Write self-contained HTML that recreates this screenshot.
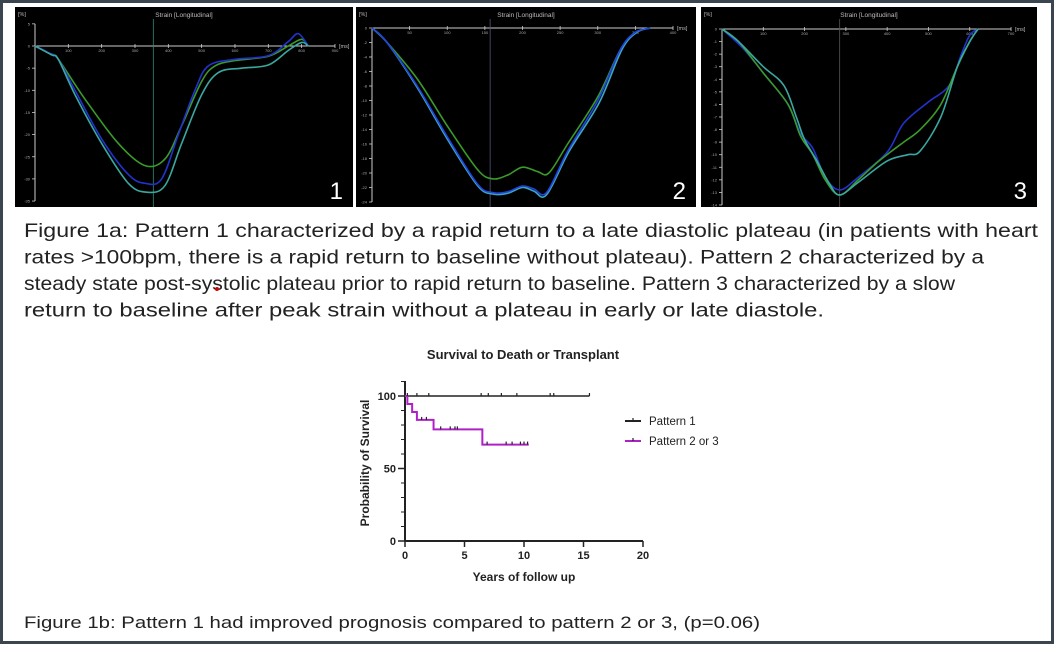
<!DOCTYPE html>
<html><head><meta charset="utf-8"><style>
html,body{margin:0;padding:0;background:#fff}
svg{display:block}
text{font-family:"Liberation Sans",Arial,sans-serif}
</style></head><body>
<svg id="fig" width="1054" height="645" viewBox="0 0 1054 645">
<rect x="1.5" y="1.5" width="1051" height="641" fill="#fff" stroke="#3a4550" stroke-width="3"/>
<g id="panels"></g>
<g font-size="19.5" fill="#222">
<text x="24" y="237" textLength="1014" lengthAdjust="spacingAndGlyphs">Figure 1a: Pattern 1 characterized by a rapid return to a late diastolic plateau (in patients with heart</text>
<text x="24" y="263.5" textLength="960" lengthAdjust="spacingAndGlyphs">rates &gt;100bpm, there is a rapid return to baseline without plateau). Pattern 2 characterized by a</text>
<text x="24" y="290" textLength="931" lengthAdjust="spacingAndGlyphs">steady state post-systolic plateau prior to rapid return to baseline. Pattern 3 characterized by a slow</text>
<text x="24" y="316.5" textLength="800" lengthAdjust="spacingAndGlyphs">return to baseline after peak strain without a plateau in early or late diastole.</text>
</g>
<circle cx="217" cy="289" r="2" fill="#d00"/>
<g id="km"></g>
<text x="24" y="628" font-size="17" fill="#222" textLength="736" lengthAdjust="spacingAndGlyphs">Figure 1b: Pattern 1 had improved prognosis compared to pattern 2 or 3, (p=0.06)</text>
</svg>
<script>
// ---- Strain panel data (time ms, strain %) ----
const p1Green=[[0,0],[50,-2],[70,-3],[150,-12],[250,-22],[330,-27],[390,-25.5],[440,-18],[500,-8],[540,-4.5],[600,-3.3],[700,-2.3],[760,0],[800,1.5],[820,0]];
const p1Blue=[[0,0],[40,-1.5],[70,-3],[120,-10],[200,-21],[280,-29],[330,-31],[380,-30],[430,-20],[480,-10],[520,-4.5],[600,-3],[700,-2.2],[760,1],[790,2.8],[820,0]];
const p1Teal=[[0,0],[50,-2],[70,-3],[120,-11],[200,-22],[280,-31],[335,-33],[390,-31.5],[440,-22],[500,-11],[550,-6],[620,-5],[700,-4.3],[760,-1],[800,0.8],[820,0]];
const p2Green=[[0,0],[20,-2],[60,-7],[100,-13.5],[140,-19.5],[160,-20.8],[180,-20.3],[200,-19.2],[220,-19.8],[235,-20],[260,-16],[300,-9.5],[330,-3],[350,-0.6],[370,0]];
const p2Blue=[[0,0],[20,-2],[60,-8],[100,-15],[140,-21.5],[160,-22.7],[180,-22.6],[200,-21.8],[215,-22.2],[232,-22.7],[260,-17],[300,-10],[330,-3],[350,-0.6],[370,0]];
const p2Teal=[[0,0],[20,-2],[60,-8.2],[100,-15.3],[140,-21.7],[160,-22.9],[180,-22.8],[200,-22],[215,-22.5],[232,-23],[262,-17],[302,-10.3],[332,-3],[352,-0.6],[370,0]];
const p3Green=[[0,0],[40,-1],[100,-3.5],[160,-6],[190,-8.5],[220,-10],[250,-12],[285,-13.2],[330,-12],[380,-10.5],[440,-9],[480,-8],[530,-6],[570,-3],[600,-1],[620,0]];
const p3Blue=[[0,0],[50,-1.5],[100,-3.5],[160,-6],[190,-8.3],[220,-9.5],[250,-11.8],[285,-12.8],[330,-11.8],[400,-9.8],[440,-7.5],[500,-5.8],[550,-4.5],[580,-2],[600,-0.5],[620,0]];
const p3Teal=[[0,0],[40,-1],[100,-3],[150,-4.5],[180,-7],[200,-8.8],[230,-10.5],[260,-12.3],[285,-13.2],[330,-12.2],[400,-10.5],[450,-10],[480,-9.7],[530,-7],[570,-3],[600,-1],[620,0]];
const p1XTicks=[100,200,300,400,500,600,700,800,900];
const p1YTicks=[5,0,-5,-10,-15,-20,-25,-30,-35];
const p2XTicks=[50,100,150,200,250,300,350,400];
const p2YTicks=[0,-2,-4,-6,-8,-10,-12,-14,-16,-18,-20,-22,-24];
const p3XTicks=[100,200,300,400,500,600,700];
const p3YTicks=[0,-1,-2,-3,-4,-5,-6,-7,-8,-9,-10,-11,-12,-13,-14];

// ---- KM data ----
const kmXTicks=[0,5,10,15,20];
const kmYTicks=[0,50,100];
const km1Steps=[[0,100],[15.5,100]];
const km1Censor=[0.2,1,2,6.4,7,8.1,9.4,12.2,12.5,15.5];
const km2Steps=[[0,100],[0.2,94.5],[0.6,89],[1,83.5],[2.4,77],[6.5,66.5],[10.4,66.5]];
const km2Censor=[[1.4,83.5],[1.8,83.5],[3,77],[3.8,77],[4.2,77],[4.4,77],[6.9,66.5],[8.5,66.5],[9,66.5],[9.7,66.5],[10,66.5],[10.3,66.5]];
const legendLabels=["Pattern 1","Pattern 2 or 3"];

const NS="http://www.w3.org/2000/svg";
function mk(tag,attrs,parent){const e=document.createElementNS(NS,tag);for(const k in attrs)e.setAttribute(k,attrs[k]);parent.appendChild(e);return e;}
function smooth(pts){let d="M"+pts[0][0]+","+pts[0][1];for(let i=0;i<pts.length-1;i++){const p0=pts[i-1]||pts[i],p1=pts[i],p2=pts[i+1],p3=pts[i+2]||p2;const c1=[p1[0]+(p2[0]-p0[0])/6,p1[1]+(p2[1]-p0[1])/6],c2=[p2[0]-(p3[0]-p1[0])/6,p2[1]-(p3[1]-p1[1])/6];d+=" C"+c1+" "+c2+" "+p2;}return d;}

const panelsG=document.getElementById('panels');
function panel(cfg){
  const g=mk('g',{},panelsG);
  
  
  mk('rect',{x:cfg.bx,y:cfg.by,width:cfg.bw,height:cfg.bh,fill:'#000'},g);
  const X=t=>cfg.x0+t*cfg.sx, Y=v=>cfg.y0-v*cfg.sy;
  const t1=mk('text',{x:cfg.bx+cfg.bw/2,y:cfg.by+10,'font-size':6.5,fill:'#bbb','text-anchor':'middle'},g);t1.textContent='Strain [Longitudinal]';
  const t2=mk('text',{x:cfg.bx+3,y:cfg.by+9,'font-size':5.5,fill:'#bbb'},g);t2.textContent='[%]';
  const t3=mk('text',{x:X(cfg.tmax)+4,y:cfg.y0+2,'font-size':5.5,fill:'#bbb'},g);t3.textContent='[ms]';
  mk('line',{x1:cfg.x0,y1:cfg.y0,x2:X(cfg.tmax),y2:cfg.y0,stroke:'#ccc','stroke-width':1},g);
  mk('line',{x1:cfg.x0,y1:Y(cfg.ymax),x2:cfg.x0,y2:Y(cfg.ymin),stroke:'#ccc','stroke-width':1},g);
  cfg.xt.forEach(t=>{mk('line',{x1:X(t),y1:cfg.y0-2,x2:X(t),y2:cfg.y0+2,stroke:'#ccc','stroke-width':0.8},g);const tx=mk('text',{x:X(t),y:cfg.y0+6,'font-size':4,fill:'#aaa','text-anchor':'middle'},g);tx.textContent=t;});
  cfg.yt.forEach(v=>{mk('line',{x1:cfg.x0-3,y1:Y(v),x2:cfg.x0,y2:Y(v),stroke:'#ccc','stroke-width':0.8},g);const tx=mk('text',{x:cfg.x0-5,y:Y(v)+1.5,'font-size':4,fill:'#aaa','text-anchor':'end'},g);tx.textContent=v;});
  mk('line',{x1:X(cfg.cursor),y1:cfg.by+12,x2:X(cfg.cursor),y2:cfg.by+cfg.bh,stroke:cfg.cursorColor,'stroke-width':0.8},g);
  cfg.series.forEach(s=>{const p=mk('path',{d:smooth(s.d.map(q=>[X(q[0]),Y(q[1])])),fill:'none',stroke:s.c,'stroke-width':1.6},g);});
  const n=mk('text',{x:cfg.bx+cfg.bw-10,y:cfg.by+cfg.bh-8,'font-size':24,fill:'#fff','text-anchor':'end'},g);n.textContent=cfg.num;
}
panel({name:'strain-panel-1',bx:15,by:7,bw:338,bh:200,x0:35,y0:46,sx:0.3333,sy:4.43,tmax:900,ymax:5,ymin:-35,xt:p1XTicks,yt:p1YTicks,cursor:355,cursorColor:'#2a8a7a',num:'1',
  series:[{d:p1Green,c:'#3a9a2a',n:'pattern1-green-curve'},{d:p1Blue,c:'#2233cc',n:'pattern1-blue-curve'},{d:p1Teal,c:'#3aa8a0',n:'pattern1-teal-curve'}]});
panel({name:'strain-panel-2',bx:356,by:7,bw:340,bh:200,x0:372,y0:28,sx:0.7525,sy:7.25,tmax:400,ymax:0,ymin:-24,xt:p2XTicks,yt:p2YTicks,cursor:157,cursorColor:'#557',num:'2',
  series:[{d:p2Green,c:'#3a9a2a',n:'pattern2-green-curve'},{d:p2Teal,c:'#3aa8c0',n:'pattern2-teal-curve'},{d:p2Blue,c:'#2244dd',n:'pattern2-blue-curve'}]});
panel({name:'strain-panel-3',bx:701,by:7,bw:336,bh:200,x0:722,y0:29,sx:0.4129,sy:12.57,tmax:700,ymax:0,ymin:-14,xt:p3XTicks,yt:p3YTicks,cursor:285,cursorColor:'#555',num:'3',
  series:[{d:p3Blue,c:'#2233cc',n:'pattern3-blue-curve'},{d:p3Green,c:'#3a9a2a',n:'pattern3-green-curve'},{d:p3Teal,c:'#3aa8a0',n:'pattern3-teal-curve'}]});

// ---- KM chart ----
const km=document.getElementById('km');
const KX=v=>405+v*(643-405)/20, KY=v=>541-v*(541-396)/100;
const title=mk('text',{x:523,y:359,'font-size':13,'font-weight':'bold',fill:'#222','text-anchor':'middle'},km);title.textContent='Survival to Death or  Transplant';

mk('line',{x1:405,y1:381,x2:405,y2:541,stroke:'#222','stroke-width':2},km);
mk('line',{x1:405,y1:541,x2:643,y2:541,stroke:'#222','stroke-width':2},km);
for(let v=0;v<=110;v+=10){mk('line',{x1:401,y1:KY(v),x2:405,y2:KY(v),stroke:'#222','stroke-width':1},km);}
kmYTicks.forEach(v=>{mk('line',{x1:398,y1:KY(v),x2:405,y2:KY(v),stroke:'#222','stroke-width':1.5},km);const t=mk('text',{x:396,y:KY(v)+4,'font-size':11,'font-weight':'bold',fill:'#222','text-anchor':'end'},km);t.textContent=v;});
kmXTicks.forEach(v=>{mk('line',{x1:KX(v),y1:541,x2:KX(v),y2:547,stroke:'#222','stroke-width':1.5},km);const t=mk('text',{x:KX(v),y:559,'font-size':11,'font-weight':'bold',fill:'#222','text-anchor':'middle'},km);t.textContent=v;});
const xt=mk('text',{x:524,y:581,'font-size':12,'font-weight':'bold',fill:'#222','text-anchor':'middle'},km);xt.textContent='Years of follow up';

const yt=mk('text',{x:0,y:0,'font-size':12,'font-weight':'bold',fill:'#222','text-anchor':'middle',transform:'translate(369,463) rotate(-90)'},km);yt.textContent='Probability of Survival';

function stepPath(st){let d='M'+KX(st[0][0])+','+KY(st[0][1]);for(let i=1;i<st.length;i++){d+=' H'+KX(st[i][0])+' V'+KY(st[i][1]);}return d;}
const l1=mk('path',{d:stepPath(km1Steps),fill:'none',stroke:'#222','stroke-width':1.5},km);

const l2=mk('path',{d:stepPath(km2Steps),fill:'none',stroke:'#b020c8','stroke-width':2},km);

km1Censor.forEach(t=>{mk('line',{x1:KX(t),y1:KY(100)-3,x2:KX(t),y2:KY(100),stroke:'#222','stroke-width':1.2},km);});
km2Censor.forEach(c=>{mk('line',{x1:KX(c[0]),y1:KY(c[1])-3,x2:KX(c[0]),y2:KY(c[1]),stroke:'#222','stroke-width':1.2},km);});
const legColors=['#222','#b020c8'];
legendLabels.forEach((lab,i)=>{const y=421+i*20;
  const g=mk('g',{},km);
  mk('line',{x1:625,y1:y,x2:641,y2:y,stroke:legColors[i],'stroke-width':2},g);
  mk('line',{x1:633,y1:y-3,x2:633,y2:y,stroke:'#222','stroke-width':1.2},g);
  const t=mk('text',{x:649,y:y+4,'font-size':11.5,fill:'#222'},g);t.textContent=lab;});
</script>
</body></html>
